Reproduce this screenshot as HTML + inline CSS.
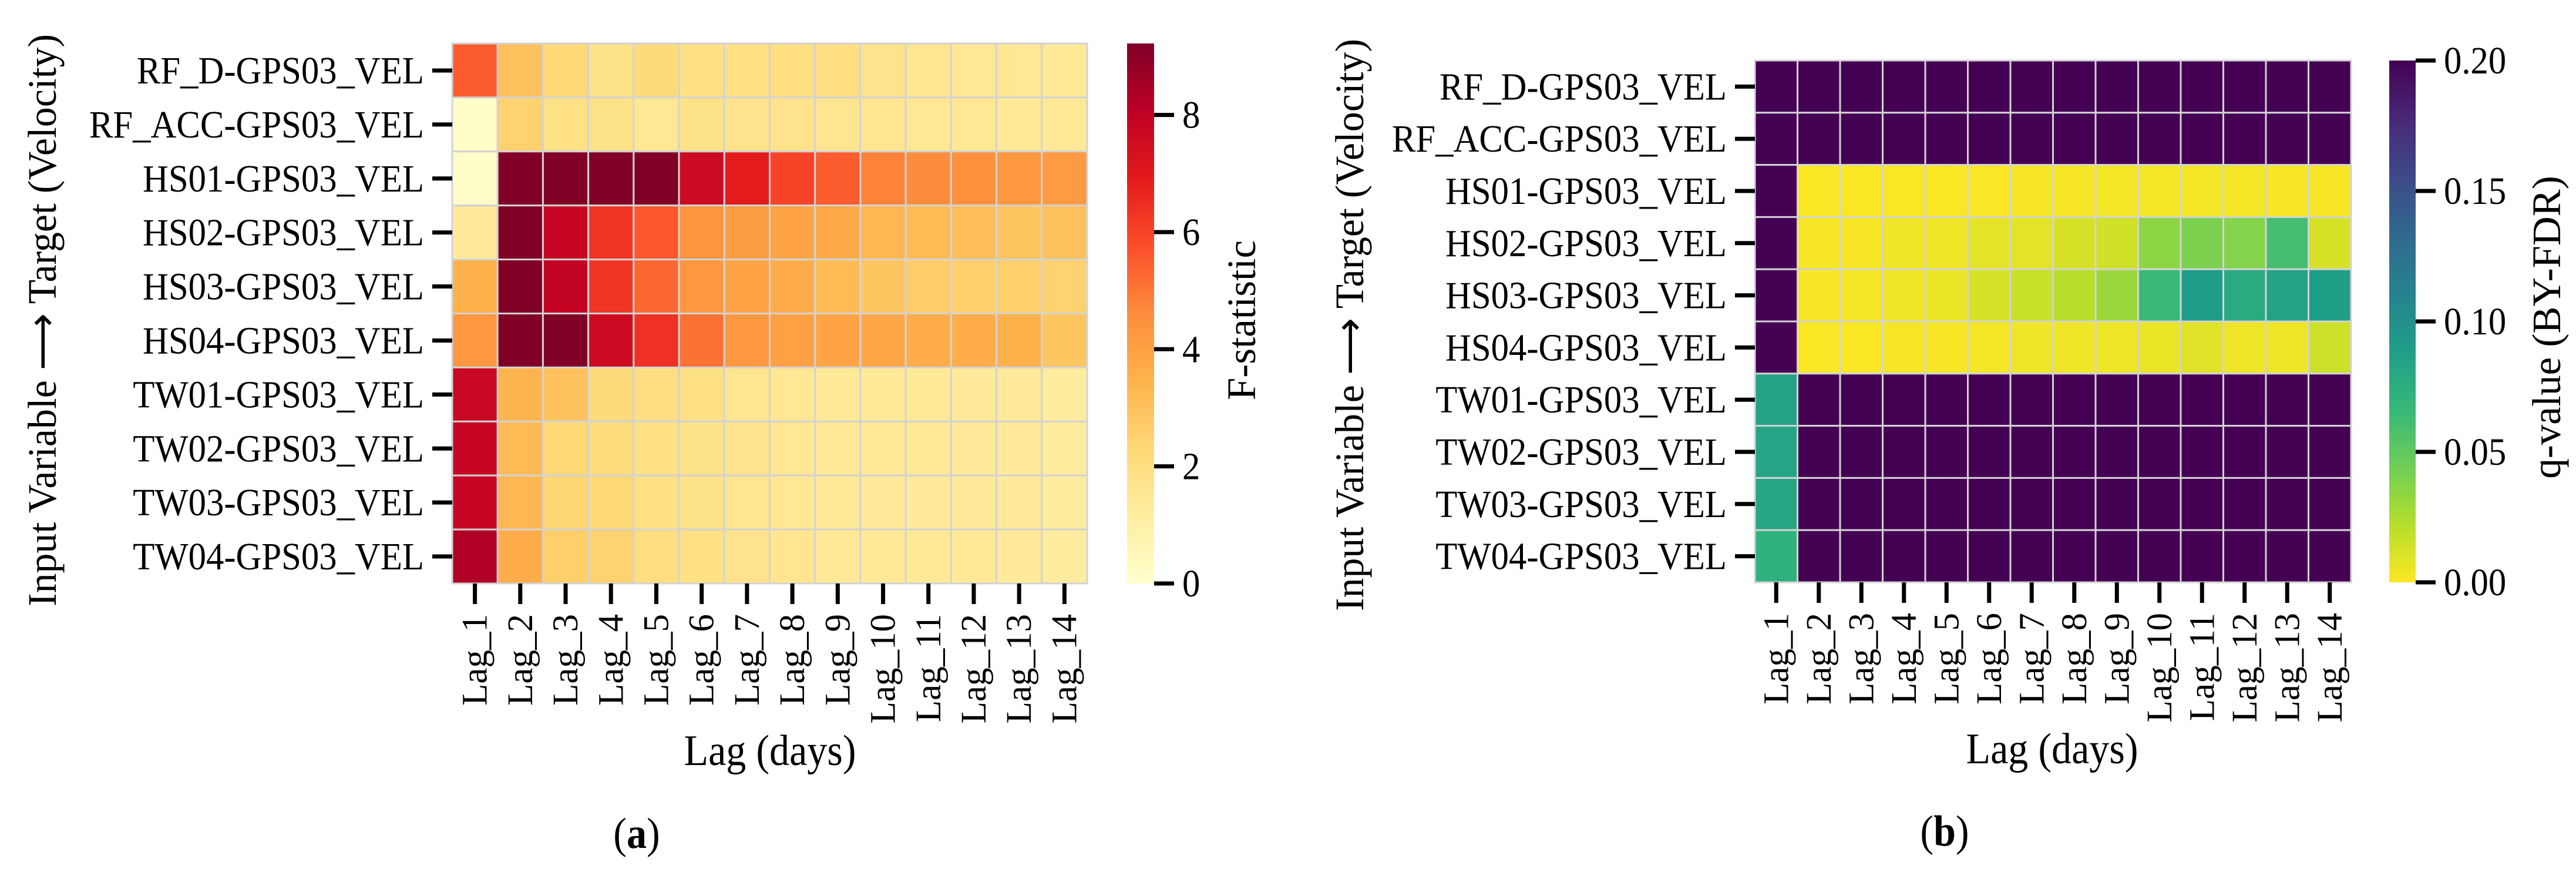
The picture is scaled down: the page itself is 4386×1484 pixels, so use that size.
<!DOCTYPE html>
<html><head><meta charset="utf-8">
<style>
html,body{margin:0;padding:0;background:#fff;}
svg{display:block;font-family:"Liberation Serif",serif;}
</style></head>
<body>
<svg id="fig" xmlns="http://www.w3.org/2000/svg" width="4386" height="1484" viewBox="0 0 4386 1484">
<rect width="4386" height="1484" fill="#fff"/>
<g id="panelA"></g>
<g id="panelB"></g>
</svg>
<script>
const rowLabels = ["RF_D-GPS03_VEL","RF_ACC-GPS03_VEL","HS01-GPS03_VEL","HS02-GPS03_VEL","HS03-GPS03_VEL","HS04-GPS03_VEL","TW01-GPS03_VEL","TW02-GPS03_VEL","TW03-GPS03_VEL","TW04-GPS03_VEL"];
const lagLabels = ["Lag_1","Lag_2","Lag_3","Lag_4","Lag_5","Lag_6","Lag_7","Lag_8","Lag_9","Lag_10","Lag_11","Lag_12","Lag_13","Lag_14"];
const fTicks = [0,2,4,6,8];
const qTicks = [0,0.05,0.10,0.15,0.20];
const qTickLabels = ["0.00","0.05","0.10","0.15","0.20"];
const fStat = [
 [5.5,3.0,2.3,1.8,2.2,1.9,1.9,2.0,2.0,1.7,1.6,1.5,1.5,1.4],
 [0.1,2.5,1.9,1.8,1.5,1.8,1.7,1.7,1.6,1.6,1.5,1.5,1.4,1.4],
 [0.1,9.2,9.2,9.2,9.2,7.6,6.9,6.0,5.5,4.8,4.6,4.5,4.3,4.2],
 [1.3,9.2,7.8,6.3,5.6,4.4,4.1,3.9,3.7,3.3,3.2,3.1,2.9,3.0],
 [3.5,9.2,7.9,6.3,5.3,4.3,3.9,3.6,3.2,2.9,2.7,2.6,2.6,2.5],
 [4.3,9.2,9.2,7.6,6.4,5.1,4.3,4.0,3.9,3.8,3.6,3.6,3.5,2.9],
 [7.7,3.4,3.0,2.2,2.0,1.9,1.6,1.5,1.4,1.4,1.4,1.3,1.3,1.2],
 [7.8,3.2,2.3,2.1,1.9,1.8,1.7,1.5,1.4,1.4,1.4,1.3,1.3,1.2],
 [7.8,3.3,2.4,2.3,1.9,1.8,1.6,1.5,1.4,1.3,1.3,1.3,1.3,1.2],
 [8.3,3.6,2.6,2.5,2.0,1.9,1.7,1.6,1.4,1.4,1.4,1.4,1.3,1.2]
];
const qVal = [
 [1,1,1,1,1,1,1,1,1,1,1,1,1,1],
 [1,1,1,1,1,1,1,1,1,1,1,1,1,1],
 [1,0.001,0.001,0.001,0.001,0.001,0.002,0.002,0.003,0.003,0.003,0.003,0.002,0.002],
 [1,0.002,0.002,0.004,0.004,0.008,0.008,0.012,0.014,0.035,0.040,0.038,0.060,0.012],
 [1,0.002,0.003,0.004,0.006,0.012,0.016,0.022,0.030,0.065,0.090,0.078,0.085,0.088],
 [1,0.001,0.001,0.002,0.002,0.003,0.004,0.004,0.005,0.006,0.009,0.005,0.004,0.015],
 [0.085,1,1,1,1,1,1,1,1,1,1,1,1,1],
 [0.083,1,1,1,1,1,1,1,1,1,1,1,1,1],
 [0.082,1,1,1,1,1,1,1,1,1,1,1,1,1],
 [0.072,1,1,1,1,1,1,1,1,1,1,1,1,1]
];
const fMax = 9.22, qMax = 0.2;

const NS="http://www.w3.org/2000/svg";
function el(parent, tag, attrs, text){
  const e=document.createElementNS(NS,tag);
  for(const k in attrs) e.setAttribute(k,attrs[k]);
  if(text!==undefined) e.textContent=text;
  parent.appendChild(e); return e;
}
function hex(h){return [parseInt(h.substr(1,2),16),parseInt(h.substr(3,2),16),parseInt(h.substr(5,2),16)];}
function interp(stops,t){
  t=Math.max(0,Math.min(1,t));
  const n=stops.length-1, p=t*n, i=Math.min(n-1,Math.floor(p)), f=p-i;
  const a=hex(stops[i]), b=hex(stops[i+1]);
  return "rgb("+a.map((v,k)=>Math.round(v+(b[k]-v)*f)).join(",")+")";
}
const ylorrd=["#ffffcc","#ffeda0","#fed976","#feb24c","#fd8d3c","#fc4e2a","#e31a1c","#bd0026","#800026"];
const viridis=["#440154","#482878","#3e4989","#31688e","#26828e","#1f9e89","#35b779","#6ece58","#b5de2b","#fde725"];
const fColor=v=>interp(ylorrd,v/fMax);
const qColor=v=>interp(viridis,1-v/qMax);
const SX=0.92;
function hText(g,x,y,size,anchor,txt){
  // horizontally condensed text anchored at (x,y)
  return el(g,"text",{x:0,y:0,"font-size":size,"text-anchor":anchor,transform:"translate("+x+" "+y+") scale("+SX+" 1)"},txt);
}

function panel(g,cfg){
  const cw=(cfg.x1-cfg.x0)/lagLabels.length, ch=(cfg.y1-cfg.y0)/rowLabels.length;
  const xs=i=>cfg.x0+i*cw, ys=j=>cfg.y0+j*ch;
  cfg.data.forEach((row,j)=>row.forEach((v,i)=>{
    const r=el(g,"rect",{x:xs(i),y:ys(j),width:cw,height:ch,fill:cfg.color(v),stroke:"#d3d3d3","stroke-width":3});
    
    
  }));
  rowLabels.forEach((lab,j)=>{
    const cy=ys(j)+ch/2;
    const t=el(g,"line",{x1:cfg.x0-34,x2:cfg.x0,y1:cy,y2:cy,stroke:"#000","stroke-width":7});
    
    
    const tx=hText(g,cfg.x0-48,cy+22,66,"end",lab);
    
    
  });
  lagLabels.forEach((lab,i)=>{
    const cx=xs(i)+cw/2;
    const t=el(g,"line",{x1:cx,x2:cx,y1:cfg.y1,y2:cfg.y1+35,stroke:"#000","stroke-width":7});
    
    
    const ty=cfg.y1+52;
    const tx=el(g,"text",{x:cx+20,y:ty,"font-size":61,"text-anchor":"end",transform:"rotate(-90 "+(cx+20)+" "+ty+")"},lab);
    
    
  });
  const yt=el(g,"text",{x:cfg.ytx+22,y:cfg.ytc,"font-size":69,"text-anchor":"middle",textLength:974,lengthAdjust:"spacingAndGlyphs",transform:"rotate(-90 "+(cfg.ytx+22)+" "+cfg.ytc+")"},"Input Variable \u27F6 Target (Velocity)");
  
  
  const xt=hText(g,cfg.xtx,cfg.xty,74,"middle","Lag (days)");
  
  
  const pl=hText(g,cfg.plx,cfg.ply,74,"middle");
  
  
  el(pl,"tspan",{},"(");el(pl,"tspan",{"font-weight":"bold"},cfg.letter);el(pl,"tspan",{},")");
  const gid="grad"+cfg.letter;
  const defs=el(g,"defs",{});
  const lg=el(defs,"linearGradient",{id:gid,x1:0,y1:1,x2:0,y2:0});
  for(let k=0;k<=40;k++){const v=cfg.cmax*k/40; el(lg,"stop",{offset:k/40,"stop-color":cfg.color(v)});}
  const cb=el(g,"rect",{x:cfg.cbx0,y:cfg.y0,width:cfg.cbx1-cfg.cbx0,height:cfg.y1-cfg.y0,fill:"url(#"+gid+")"});
  
  
  const cs=v=>cfg.y1-(v/cfg.cmax)*(cfg.y1-cfg.y0);
  cfg.ticks.forEach((v,k)=>{
    const y=cs(v);
    const t=el(g,"line",{x1:cfg.cbx1,x2:cfg.cbx1+34,y1:y,y2:y,stroke:"#000","stroke-width":7});
    
    
    const tl=hText(g,cfg.cbx1+48,y+22,66,"start",cfg.tickLabels[k]);
    
    
  });
  const cl=el(g,"text",{x:cfg.clx+22,y:cfg.clc,"font-size":69,"text-anchor":"middle",transform:"rotate(-90 "+(cfg.clx+22)+" "+cfg.clc+")"},cfg.clabel);
  
  
}
panel(document.getElementById("panelA"),{letter:"a",x0:770,x1:1851,y0:74,y1:993,data:fStat,color:fColor,
  cmax:fMax,ticks:fTicks,tickLabels:fTicks.map(String),cbx0:1919,cbx1:1965,clx:2115,clc:545,clabel:"F-statistic",
  ytx:73,ytc:545,xtx:1311,xty:1302,plx:1084,ply:1443});
panel(document.getElementById("panelB"),{letter:"b",x0:2988,x1:4003,y0:103,y1:991,data:qVal,color:qColor,
  cmax:qMax,ticks:qTicks,tickLabels:qTickLabels,cbx0:4068,cbx1:4113,clx:4337,clc:557,clabel:"q-value (BY-FDR)",
  ytx:2299,ytc:553,xtx:3494,xty:1299,plx:3311,ply:1439});
</script>
</body></html>
